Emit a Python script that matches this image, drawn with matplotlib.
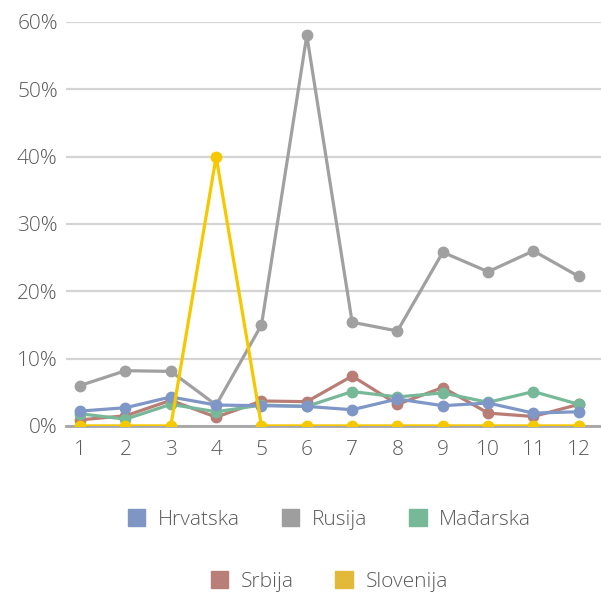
import numpy as np
import matplotlib.pyplot as plt
from matplotlib.patches import Patch
from matplotlib.ticker import PercentFormatter

plt.rcParams['font.family'] = ['Open Sans', 'DejaVu Sans']
plt.rcParams['font.weight'] = 'light'

months = list(range(1, 13))
hrvatska = [2.2, 2.7, 4.3, 3.1, 3.0, 2.9, 2.4, 4.0, 3.0, 3.4, 1.9, 2.1]
rusija = [6.0, 8.2, 8.1, 3.1, 15.0, 58.0, 15.4, 14.1, 25.8, 22.9, 26.0, 22.2]
madjarska = [1.8, 1.0, 3.2, 2.1, 3.1, 2.9, 5.1, 4.3, 4.9, 3.5, 5.1, 3.2]
srbija = [0.9, 1.5, 3.8, 1.3, 3.7, 3.6, 7.4, 3.2, 5.7, 1.9, 1.4, 3.2]
slovenija = [0, 0, 0, 40, 0, 0, 0, 0, 0, 0, 0, 0]

# drawing order: later series sit on top
series = [
    ('Rusija', rusija, '#a0a0a0'),
    ('Srbija', srbija, '#b97d76'),
    ('Mađarska', madjarska, '#77b899'),
    ('Hrvatska', hrvatska, '#7f97c6'),
    ('Slovenija', slovenija, '#f5c800'),
]
legend_colors = {'Hrvatska': '#7f96c4', 'Rusija': '#9e9e9e', 'Mađarska': '#77b899',
                 'Srbija': '#b87e77', 'Slovenija': '#e2b93a'}

fig = plt.figure(figsize=(6.01, 5.94), dpi=100)
ax = fig.add_axes([0.11, 0.283, 0.89, 0.68])

for name, vals, col in series:
    ax.plot(months, vals, color=col, lw=2.3, marker='o', ms=7.5, zorder=3,
            solid_joinstyle='round')

ax.set_ylim(0, 60)
ax.set_xlim(0.69, 12.49)
ax.set_yticks(np.arange(0, 61, 10))
ax.yaxis.set_major_formatter(PercentFormatter(decimals=0))
ax.set_xticks(months)
ax.grid(axis='y', color='#d4d4d4', lw=1.6)
ax.set_axisbelow(True)
for s in ['top', 'right', 'left']:
    ax.spines[s].set_visible(False)
ax.spines['bottom'].set_color('#a6a6a6')
ax.spines['bottom'].set_linewidth(2)
ax.spines['bottom'].set_zorder(2)
ax.tick_params(axis='both', length=0, labelsize=15, labelcolor='#595959')
ax.tick_params(axis='x', pad=10)
ax.tick_params(axis='y', pad=6)

def handles(names):
    return [Patch(color=legend_colors[n], label=n) for n in names]

kw = dict(frameon=False, fontsize=15, labelcolor='#595959', handlelength=0.85,
          handleheight=0.85, handletextpad=0.6, columnspacing=2.0, loc='center')
fig.legend(handles=handles(['Hrvatska', 'Rusija', 'Mađarska']), ncol=3,
           bbox_to_anchor=(0.548, 0.125), **kw)
fig.legend(handles=handles(['Srbija', 'Slovenija']), ncol=2,
           bbox_to_anchor=(0.548, 0.021), **kw)

fig.savefig('out.png', dpi=100)
